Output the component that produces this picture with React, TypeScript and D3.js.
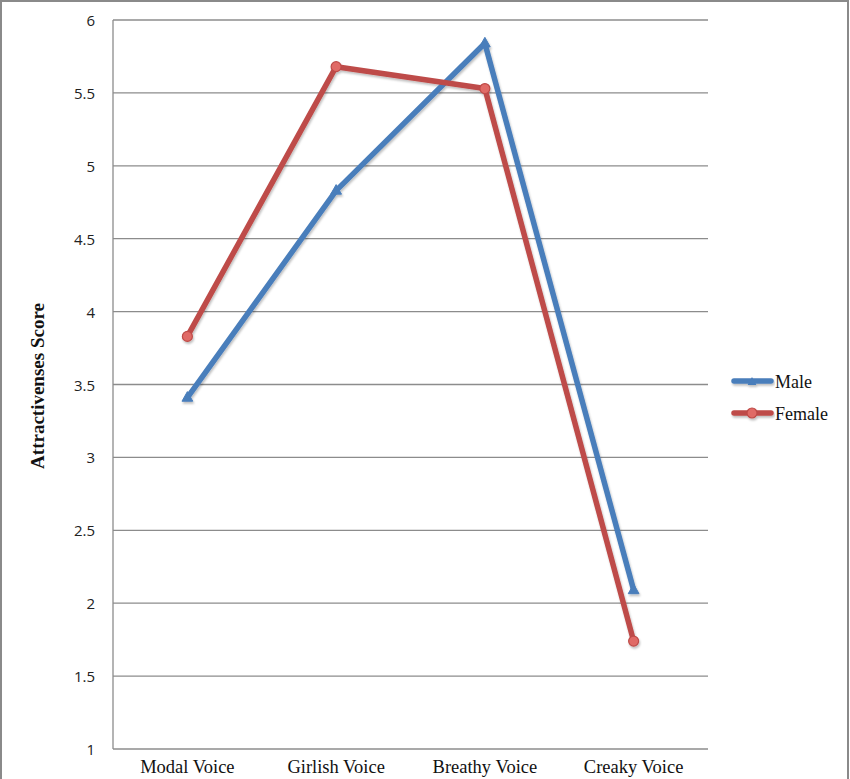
import React from "react";
import * as d3 from "d3";

const categories = ["Modal Voice", "Girlish Voice", "Breathy Voice", "Creaky Voice"];
const maleValues = [3.41, 4.83, 5.84, 2.09];
const femaleValues = [3.83, 5.68, 5.53, 1.74];
const yTicks = [1, 1.5, 2, 2.5, 3, 3.5, 4, 4.5, 5, 5.5, 6];
const yTickLabels = ["1", "1.5", "2", "2.5", "3", "3.5", "4", "4.5", "5", "5.5", "6"];

const W = 850;
const H = 779;
const plot = { left: 113, right: 708, top: 20, bottom: 749 };
const BLUE = "#4a7ebb";
const RED = "#be4b48";
const GRID = "#8c8c8c";
const SERIF = "'Liberation Serif', 'DejaVu Serif', serif";

export default function App() {
  const x = d3.scaleBand<string>().domain(categories).range([plot.left, plot.right]);
  const y = d3.scaleLinear().domain([1, 6]).range([plot.bottom, plot.top]);
  const cx = (c: string) => (x(c) as number) + x.bandwidth() / 2;
  const line = d3
    .line<number>()
    .x((_, i) => cx(categories[i]))
    .y((v) => y(v));

  const tri = (px: number, py: number, s: number) =>
    `M${px},${py - s}L${px + s * 0.9},${py + s * 0.6}L${px - s * 0.9},${py + s * 0.6}Z`;

  return (
    <svg
      width={W}
      height={H}
      style={{ position: "absolute", left: 0, top: 0, background: "#fff" }}
    >
      <defs>
        <filter id="sh" x="-10%" y="-10%" width="120%" height="120%">
          <feDropShadow dx="1" dy="2" stdDeviation="1.2" floodColor="#000" floodOpacity="0.25" />
        </filter>
      </defs>
      <rect x={1} y={1} width={W - 3} height={H + 20} fill="#fff" stroke="#8a8a8a" strokeWidth={2} />
      {/* gridlines */}
      {yTicks.map((t, i) =>
        i === 0 ? null : (
          <line key={t} x1={plot.left} x2={plot.right} y1={y(t)} y2={y(t)} stroke={GRID} strokeWidth={1.3} />
        )
      )}
      {/* axes */}
      <line x1={plot.left} x2={plot.left} y1={plot.top} y2={plot.bottom} stroke={GRID} strokeWidth={1.3} />
      <line x1={plot.left} x2={plot.right} y1={plot.bottom} y2={plot.bottom} stroke={GRID} strokeWidth={1.3} />
      {/* y tick labels */}
      {yTicks.map((t, i) => (
        <text
          key={"l" + t}
          x={95}
          y={y(t)}
          textAnchor="end"
          dominantBaseline="central"
          fontFamily="'Open Sans', 'Liberation Sans', sans-serif"
          fontSize={15}
          fill="#222"
        >
          {yTickLabels[i]}
        </text>
      ))}
      {/* y title */}
      <text
        transform={`translate(37,386) rotate(-90)`}
        textAnchor="middle"
        dominantBaseline="central"
        fontFamily={SERIF}
        fontWeight="bold"
        fontSize={19}
        fill="#111"
      >
        Attractivenses Score
      </text>
      {/* x labels */}
      {categories.map((c) => (
        <text
          key={c}
          x={cx(c)}
          y={773}
          textAnchor="middle"
          fontFamily={SERIF}
          fontSize={18.5}
          fill="#111"
        >
          {c}
        </text>
      ))}
      {/* series */}
      <g filter="url(#sh)">
        <path d={line(maleValues) || ""} fill="none" stroke={BLUE} strokeWidth={5.5} strokeLinejoin="round" />
        {maleValues.map((v, i) => (
          <path key={"m" + i} d={tri(cx(categories[i]), y(v), 6)} fill={BLUE} stroke={BLUE} strokeWidth={1} />
        ))}
        <path d={line(femaleValues) || ""} fill="none" stroke={RED} strokeWidth={5.5} strokeLinejoin="round" />
        {femaleValues.map((v, i) => (
          <circle key={"f" + i} cx={cx(categories[i])} cy={y(v)} r={5} fill="#e06a66" stroke={RED} strokeWidth={1.2} />
        ))}
      </g>
      {/* legend */}
      <g filter="url(#sh)">
        <line x1={734} x2={771} y1={381} y2={381} stroke={BLUE} strokeWidth={5.5} strokeLinecap="round" />
        <path d={tri(752, 382, 5)} fill={BLUE} />
        <line x1={734} x2={771} y1={413} y2={413} stroke={RED} strokeWidth={5.5} strokeLinecap="round" />
        <circle cx={752} cy={413} r={5} fill="#e06a66" stroke={RED} strokeWidth={1.2} />
      </g>
      <text x={775} y={382} dominantBaseline="central" fontFamily={SERIF} fontSize={18} fill="#111">
        Male
      </text>
      <text x={775} y={414} dominantBaseline="central" fontFamily={SERIF} fontSize={18} fill="#111">
        Female
      </text>
    </svg>
  );
}
